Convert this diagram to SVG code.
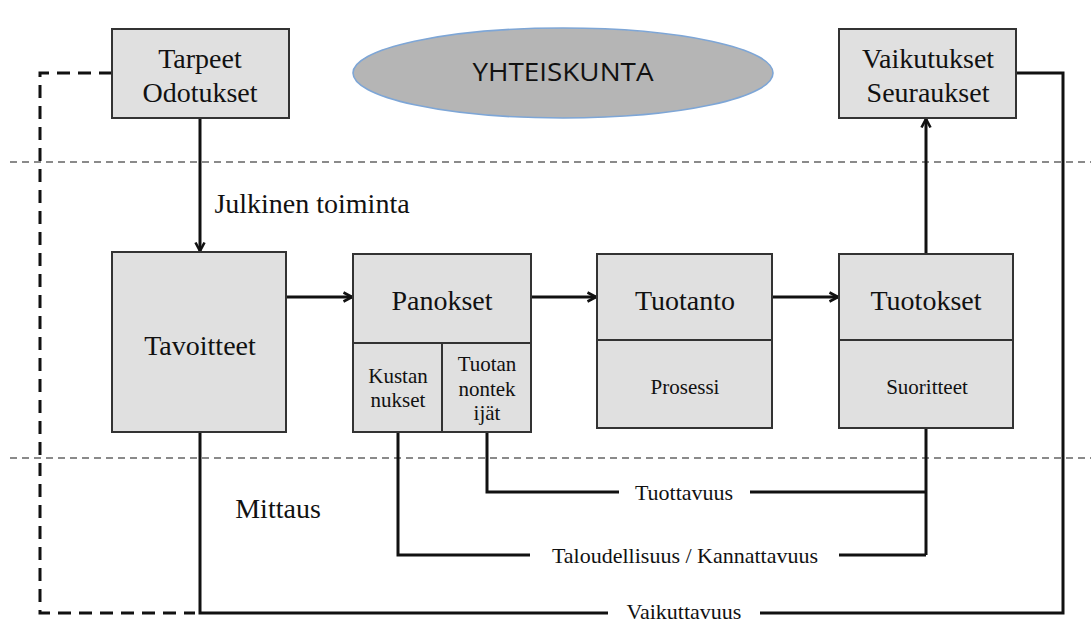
<svg xmlns="http://www.w3.org/2000/svg" width="1091" height="623" viewBox="0 0 1091 623">
  <style>
    .box { fill: #e0e0e0; stroke: #333; stroke-width: 2; }
    .div { stroke: #333; stroke-width: 2; fill: none; }
    .lbl { font-family: "Liberation Serif", "Times New Roman", serif; fill: #111; text-anchor: middle; }
    .big { font-size: 28px; }
    .small { font-size: 21px; }
    .meas { font-size: 22px; }
    .wire { stroke: #111; stroke-width: 3; fill: none; }
    .band { stroke: #8a8a8a; stroke-width: 2; stroke-dasharray: 7 5; fill: none; }
    .feedback { stroke: #111; stroke-width: 3; stroke-dasharray: 13 8; fill: none; }
  </style>
  <defs>
    <marker id="arrow" viewBox="0 0 12 12" refX="10.5" refY="6" markerWidth="12" markerHeight="12" markerUnits="userSpaceOnUse" orient="auto">
      <polyline points="2,1.5 10.5,6 2,10.5" fill="none" stroke="#111" stroke-width="2.6"/>
    </marker>
  </defs>

  <rect width="1091" height="623" fill="#fff"/>

  <!-- level separators -->
  <g id="bands">
    <line class="band" x1="10" y1="162" x2="1091" y2="162"/>
    <line class="band" x1="10" y1="458" x2="1091" y2="458"/>
  </g>

  <!-- connectors -->
  <g id="connectors">
    <path class="feedback" d="M112,73 H40 V613 H195"/>
    <line class="wire" x1="200" y1="118" x2="200" y2="251" marker-end="url(#arrow)"/>
    <line class="wire" x1="286" y1="297" x2="352" y2="297" marker-end="url(#arrow)"/>
    <line class="wire" x1="531" y1="297" x2="596" y2="297" marker-end="url(#arrow)"/>
    <line class="wire" x1="772" y1="297" x2="838" y2="297" marker-end="url(#arrow)"/>
    <line class="wire" x1="926" y1="254" x2="926" y2="119" marker-end="url(#arrow)"/>
    <!-- Tuottavuus -->
    <path class="wire" d="M926,428 V555"/>
    <path class="wire" d="M926,492 H750"/>
    <path class="wire" d="M619,492 H487 V432"/>
    <!-- Taloudellisuus / Kannattavuus -->
    <path class="wire" d="M398,432 V555 H530"/>
    <path class="wire" d="M839,555 H926"/>
    <!-- Vaikuttavuus -->
    <path class="wire" d="M200,432 V613 H608"/>
    <path class="wire" d="M760,613 H1063 V73 H1016"/>
  </g>

  <g id="yhteiskunta">
    <ellipse cx="563" cy="73" rx="210" ry="45" fill="#b5b5b5" stroke="#7ea6d6" stroke-width="1.6"/>
    <text x="563" y="81" font-family="'Open Sans', 'Liberation Sans', sans-serif" font-size="25" fill="#111" text-anchor="middle" textLength="181" lengthAdjust="spacingAndGlyphs">YHTEISKUNTA</text>
  </g>

  <g id="tarpeet">
    <rect class="box" x="112" y="29" width="177" height="89"/>
    <text class="lbl big" x="200" y="68">Tarpeet</text>
    <text class="lbl big" x="200" y="102">Odotukset</text>
  </g>

  <g id="vaikutukset">
    <rect class="box" x="839" y="29" width="177" height="89"/>
    <text class="lbl big" x="928" y="68">Vaikutukset</text>
    <text class="lbl big" x="928" y="102">Seuraukset</text>
  </g>

  <g id="tavoitteet">
    <rect class="box" x="112" y="252" width="174" height="180"/>
    <text class="lbl big" x="200" y="355">Tavoitteet</text>
  </g>

  <g id="panokset">
    <rect class="box" x="353" y="254" width="178" height="178"/>
    <line class="div" x1="353" y1="343" x2="531" y2="343"/>
    <line class="div" x1="442" y1="343" x2="442" y2="432"/>
    <text class="lbl big" x="442" y="310">Panokset</text>
    <text class="lbl small" x="398" y="383">Kustan</text>
    <text class="lbl small" x="398" y="407">nukset</text>
    <text class="lbl small" x="487" y="371">Tuotan</text>
    <text class="lbl small" x="487" y="396">nontek</text>
    <text class="lbl small" x="487" y="420">ijät</text>
  </g>

  <g id="tuotanto">
    <rect class="box" x="597" y="254" width="175" height="174"/>
    <line class="div" x1="597" y1="340" x2="772" y2="340"/>
    <text class="lbl big" x="685" y="310">Tuotanto</text>
    <text class="lbl small" x="685" y="394">Prosessi</text>
  </g>

  <g id="tuotokset">
    <rect class="box" x="839" y="254" width="174" height="174"/>
    <line class="div" x1="839" y1="340" x2="1013" y2="340"/>
    <text class="lbl big" x="926" y="310">Tuotokset</text>
    <text class="lbl small" x="927" y="394">Suoritteet</text>
  </g>

  <g id="labels">
    <text class="lbl big" x="312" y="213">Julkinen toiminta</text>
    <text class="lbl big" x="278" y="518">Mittaus</text>
    <text class="lbl meas" x="684" y="500">Tuottavuus</text>
    <text class="lbl meas" x="685" y="563">Taloudellisuus / Kannattavuus</text>
    <text class="lbl meas" x="684" y="619">Vaikuttavuus</text>
  </g>
</svg>
